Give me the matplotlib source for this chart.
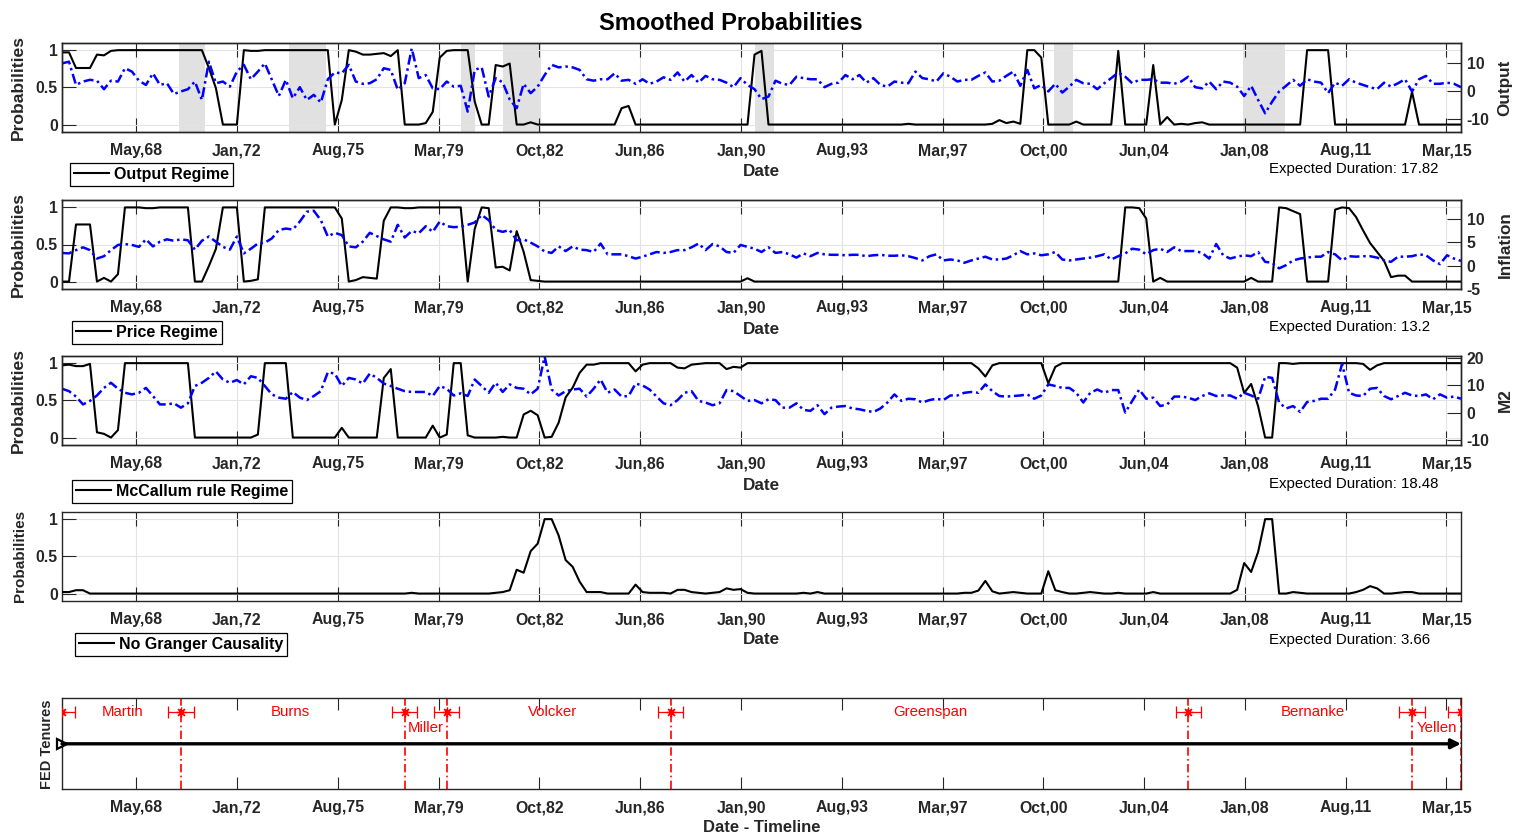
import numpy as np
import matplotlib
matplotlib.use("Agg")
import matplotlib.pyplot as plt

plt.rcParams['font.family'] = ['Liberation Sans', 'DejaVu Sans']

# ---------------- data ----------------
first_quarter = 1965.75
n_quarters = 201
dates = first_quarter + 0.25 * np.arange(n_quarters)

tick_pos = [1968.40, 1972.00, 1975.61, 1979.21, 1982.81, 1986.41, 1990.02,
            1993.62, 1997.22, 2000.82, 2004.43, 2008.03, 2011.63, 2015.23]
tick_labels = ['May,68', 'Jan,72', 'Aug,75', 'Mar,79', 'Oct,82', 'Jun,86', 'Jan,90',
               'Aug,93', 'Mar,97', 'Oct,00', 'Jun,04', 'Jan,08', 'Aug,11', 'Mar,15']

rec_start = [1969.92, 1973.87, 1980.00, 1981.50, 1990.50, 2001.20, 2007.95]
rec_end = [1970.87, 1975.20, 1980.50, 1982.87, 1991.20, 2001.87, 2009.45]

output_regime = [
    0.97, 0.97, 0.76, 0.76, 0.76, 0.94, 0.93, 0.99, 1.0, 1.0,
    1.0, 1.0, 1.0, 1.0, 1.0, 1.0, 1.0, 1.0, 1.0, 1.0,
    1.0, 0.76, 0.49, 0.0, 0.0, 0.0, 1.0, 0.99, 0.99, 1.0,
    1.0, 1.0, 1.0, 1.0, 1.0, 1.0, 1.0, 1.0, 1.0, 0.0,
    0.33, 1.0, 0.98, 0.94, 0.94, 0.95, 0.96, 0.92, 1.0, 0.0,
    0.0, 0.0, 0.02, 0.17, 0.90, 0.99, 1.0, 1.0, 1.0, 0.31,
    0.0, 0.0, 0.80, 0.78, 0.82, 0.0, 0.0, 0.03, 0.0, 0.0,
    0.0, 0.0, 0.0, 0.0, 0.0, 0.0, 0.0, 0.0, 0.0, 0.0,
    0.22, 0.25, 0.0, 0.0, 0.0, 0.0, 0.0, 0.0, 0.0, 0.0,
    0.0, 0.0, 0.0, 0.0, 0.0, 0.0, 0.0, 0.0, 0.0, 0.94,
    0.99, 0.0, 0.0, 0.0, 0.0, 0.0, 0.0, 0.0, 0.0, 0.0,
    0.0, 0.0, 0.0, 0.0, 0.0, 0.0, 0.0, 0.0, 0.0, 0.0,
    0.0, 0.01, 0.0, 0.0, 0.0, 0.0, 0.0, 0.0, 0.0, 0.0,
    0.0, 0.0, 0.0, 0.01, 0.06, 0.02, 0.04, 0.01, 1.0, 1.0,
    0.90, 0.0, 0.0, 0.0, 0.0, 0.04, 0.0, 0.0, 0.0, 0.0,
    0.0, 0.99, 0.0, 0.0, 0.0, 0.0, 0.80, 0.0, 0.10, 0.0,
    0.01, 0.0, 0.02, 0.03, 0.0, 0.0, 0.0, 0.0, 0.0, 0.0,
    0.0, 0.0, 0.0, 0.0, 0.0, 0.0, 0.0, 0.0, 1.0, 1.0,
    1.0, 1.0, 0.0, 0.0, 0.0, 0.0, 0.0, 0.0, 0.0, 0.0,
    0.0, 0.0, 0.0, 0.44, 0.0, 0.0, 0.0, 0.0, 0.0, 0.0,
    0.0]

output_growth = [
    9.7, 10.3, 2.1, 3.3, 3.9, 3.6, 0.6, 3.6, 3.3, 8.0,
    6.8, 3.6, 2.1, 6.2, 2.1, 2.7, -1.1, -0.2, 0.6, 3.3,
    -3.2, 10.3, 2.7, 3.3, 1.5, 6.8, 9.2, 4.1, 6.8, 9.7,
    3.9, -1.8, 3.9, -2.6, 1.3, -3.2, -1.4, -4.1, 4.1, 6.5,
    6.2, 9.2, 3.3, 2.5, 2.7, 4.1, 8.0, 7.4, 0.4, 2.7,
    15.0, 4.5, 5.6, 0.9, 0.6, 3.3, 1.5, 1.8, -7.3, 7.4,
    8.3, -2.0, 4.5, 3.0, -3.0, -6.1, 2.5, -0.8, 1.5, 5.6,
    9.2, 8.3, 8.6, 8.3, 7.4, 4.1, 3.6, 4.1, 4.1, 6.2,
    3.6, 3.9, 2.5, 4.1, 2.5, 3.3, 4.8, 3.9, 6.5, 3.3,
    5.6, 2.9, 5.3, 4.1, 3.9, 2.9, 1.3, 4.5, 2.1, 0.6,
    -2.9, -2.0, 3.6, 2.5, 2.1, 5.0, 4.5, 4.1, 4.1, 1.3,
    2.5, 2.9, 5.6, 4.1, 5.6, 2.9, 4.5, 2.1, 1.5, 3.3,
    2.9, 2.7, 6.8, 4.5, 4.1, 3.3, 6.2, 5.0, 3.3, 3.9,
    3.9, 5.3, 6.5, 3.3, 3.6, 5.3, 6.8, 1.8, 7.4, 0.9,
    2.1, -0.2, 2.5, -0.6, 1.5, 3.9, 2.7, 2.5, 0.6, 2.7,
    4.5, 6.5, 5.0, 2.7, 3.9, 3.9, 4.1, 2.9, 2.9, 2.5,
    3.3, 5.0, 1.3, 0.9, 3.3, 0.6, 3.3, 2.9, 1.5, -1.8,
    1.8, -3.2, -7.9, -3.8, -0.2, 1.8, 3.9, 1.8, 4.1, 3.3,
    2.9, -0.8, 2.9, 1.8, 4.1, 2.9, 2.1, 1.3, 0.6, 2.9,
    1.5, 2.7, 4.1, -0.2, 4.1, 5.3, 2.5, 2.5, 2.9, 2.5,
    1.3]

price_regime = [
    0.0, 0.0, 0.77, 0.77, 0.77, 0.0, 0.05, 0.0, 0.1, 1.0,
    1.0, 1.0, 0.99, 0.99, 1.0, 1.0, 1.0, 1.0, 1.0, 0.0,
    0.0, 0.21, 0.44, 1.0, 1.0, 1.0, 0.0, 0.01, 0.03, 1.0,
    1.0, 1.0, 1.0, 1.0, 1.0, 1.0, 1.0, 1.0, 1.0, 1.0,
    0.85, 0.0, 0.02, 0.06, 0.05, 0.04, 0.82, 1.0, 1.0, 0.99,
    0.99, 1.0, 1.0, 1.0, 1.0, 1.0, 1.0, 1.0, 0.0, 0.71,
    1.0, 0.99, 0.19, 0.20, 0.15, 0.68, 0.40, 0.02, 0.01, 0.0,
    0.0, 0.0, 0.0, 0.0, 0.0, 0.0, 0.0, 0.0, 0.0, 0.0,
    0.0, 0.0, 0.0, 0.0, 0.0, 0.0, 0.0, 0.0, 0.0, 0.0,
    0.0, 0.0, 0.0, 0.0, 0.0, 0.0, 0.0, 0.0, 0.045, 0.0,
    0.0, 0.0, 0.0, 0.0, 0.0, 0.0, 0.0, 0.0, 0.0, 0.0,
    0.0, 0.0, 0.0, 0.0, 0.0, 0.0, 0.0, 0.0, 0.0, 0.0,
    0.0, 0.0, 0.0, 0.0, 0.0, 0.0, 0.0, 0.0, 0.0, 0.0,
    0.0, 0.0, 0.0, 0.0, 0.0, 0.0, 0.0, 0.0, 0.0, 0.0,
    0.0, 0.0, 0.0, 0.0, 0.0, 0.0, 0.0, 0.0, 0.0, 0.0,
    0.0, 0.0, 1.0, 1.0, 0.99, 0.85, 0.0, 0.05, 0.0, 0.0,
    0.0, 0.0, 0.0, 0.0, 0.0, 0.0, 0.0, 0.0, 0.0, 0.0,
    0.05, 0.0, 0.0, 0.0, 1.0, 0.99, 0.95, 0.91, 0.0, 0.0,
    0.0, 0.0, 0.97, 1.0, 0.99, 0.87, 0.69, 0.52, 0.40, 0.28,
    0.06, 0.08, 0.08, 0.0, 0.0, 0.0, 0.0, 0.0, 0.0, 0.0,
    0.0]

inflation = [
    2.7, 2.6, 3.3, 3.9, 3.3, 1.5, 2.0, 3.3, 4.4, 4.6,
    4.4, 4.0, 5.6, 4.1, 5.1, 5.6, 5.3, 5.6, 5.4, 3.4,
    5.3, 6.2, 5.1, 4.0, 3.4, 6.2, 2.6, 3.6, 4.7, 4.9,
    5.8, 7.6, 7.9, 7.7, 9.4, 11.5, 11.7, 9.7, 6.2, 7.0,
    6.5, 4.1, 3.9, 5.1, 7.0, 6.3, 5.6, 5.1, 8.7, 6.0,
    7.4, 6.9, 8.4, 7.2, 9.4, 8.4, 8.2, 8.3, 8.7, 9.2,
    10.8, 9.7, 7.6, 7.2, 7.6, 5.4, 5.6, 4.9, 4.1, 3.0,
    2.7, 4.1, 3.1, 4.1, 3.4, 3.3, 2.9, 4.7, 2.4, 2.4,
    2.4, 2.0, 1.5, 1.9, 2.4, 2.9, 2.7, 2.9, 3.3, 3.3,
    3.9, 4.7, 3.3, 4.6, 4.1, 2.9, 2.7, 4.4, 4.0, 3.6,
    2.9, 3.9, 2.7, 2.9, 2.4, 1.7, 2.6, 2.0, 2.7, 2.4,
    2.3, 2.3, 2.2, 2.3, 2.3, 2.0, 2.2, 2.3, 2.1, 2.1,
    2.2, 2.0, 1.6, 1.1, 2.0, 2.4, 1.1, 1.3, 1.1, 0.6,
    1.1, 1.5, 1.9, 1.3, 1.3, 1.5, 2.2, 3.1, 2.4, 2.6,
    2.2, 2.4, 2.9, 1.3, 1.1, 1.3, 1.5, 1.7, 2.0, 2.4,
    1.3, 2.0, 2.6, 3.6, 3.4, 2.4, 3.3, 3.6, 2.9, 3.9,
    3.1, 3.1, 3.1, 2.7, 1.5, 4.6, 2.2, 1.5, 1.9, 2.2,
    2.0, 2.9, 0.8, 0.6, -0.6, 0.1, 1.1, 1.5, 1.7, 1.9,
    1.9, 2.9, 2.4, 1.1, 2.0, 1.9, 2.0, 2.0, 1.7, 1.1,
    0.8, 1.9, 1.9, 2.0, 2.4, 2.2, 1.1, 0.3, 2.2, 1.5,
    1.0]

mccallum_regime = [
    0.97, 0.98, 0.96, 0.96, 0.99, 0.07, 0.05, 0.0, 0.1, 1.0,
    1.0, 1.0, 1.0, 1.0, 1.0, 1.0, 1.0, 1.0, 1.0, 0.0,
    0.0, 0.0, 0.0, 0.0, 0.0, 0.0, 0.0, 0.0, 0.04, 1.0,
    1.0, 1.0, 1.0, 0.0, 0.0, 0.0, 0.0, 0.0, 0.0, 0.0,
    0.13, 0.0, 0.0, 0.0, 0.0, 0.0, 0.80, 0.92, 0.0, 0.0,
    0.0, 0.0, 0.0, 0.16, 0.0, 0.04, 1.0, 1.0, 0.03, 0.0,
    0.0, 0.0, 0.0, 0.01, 0.0, 0.0, 0.31, 0.36, 0.30, 0.0,
    0.01, 0.20, 0.54, 0.67, 0.87, 0.98, 0.98, 1.0, 1.0, 1.0,
    1.0, 1.0, 0.89, 0.98, 1.0, 1.0, 1.0, 1.0, 0.94, 0.93,
    0.98, 0.99, 1.0, 1.0, 1.0, 0.92, 0.95, 0.94, 1.0, 1.0,
    1.0, 1.0, 1.0, 1.0, 1.0, 1.0, 1.0, 1.0, 1.0, 1.0,
    1.0, 1.0, 1.0, 1.0, 1.0, 1.0, 1.0, 1.0, 1.0, 1.0,
    1.0, 1.0, 1.0, 1.0, 1.0, 1.0, 1.0, 1.0, 1.0, 1.0,
    1.0, 0.93, 0.82, 0.97, 1.0, 1.0, 1.0, 1.0, 1.0, 1.0,
    1.0, 0.73, 0.95, 1.0, 1.0, 1.0, 1.0, 1.0, 1.0, 1.0,
    1.0, 1.0, 1.0, 1.0, 1.0, 1.0, 1.0, 1.0, 1.0, 1.0,
    1.0, 1.0, 1.0, 1.0, 1.0, 1.0, 1.0, 1.0, 0.94, 0.60,
    0.72, 0.42, 0.0, 0.0, 1.0, 1.0, 0.99, 1.0, 1.0, 1.0,
    1.0, 1.0, 1.0, 1.0, 1.0, 1.0, 0.99, 0.91, 0.97, 1.0,
    1.0, 1.0, 1.0, 1.0, 1.0, 1.0, 1.0, 1.0, 1.0, 1.0,
    1.0]

m2_growth = [
    8.8, 7.9, 5.9, 3.0, 4.3, 6.3, 9.1, 11.0, 8.8, 7.3,
    6.7, 7.3, 9.1, 6.1, 3.0, 3.0, 3.4, 1.8, 3.4, 9.8,
    11.0, 12.8, 15.2, 12.2, 11.0, 12.0, 10.4, 13.4, 12.8, 9.8,
    6.7, 5.5, 5.1, 7.6, 5.5, 4.6, 6.1, 7.9, 14.9, 14.4,
    9.8, 12.8, 12.2, 10.7, 14.4, 12.8, 10.7, 9.8, 8.8, 7.9,
    7.6, 7.6, 7.6, 6.1, 9.8, 8.8, 6.3, 7.1, 6.1, 12.2,
    9.8, 7.3, 11.0, 7.6, 10.4, 9.1, 8.8, 6.7, 8.8, 20.7,
    8.5, 6.3, 7.9, 8.5, 8.8, 5.9, 8.8, 12.2, 7.3, 8.5,
    5.9, 6.1, 10.7, 10.0, 8.5, 5.9, 3.4, 2.7, 4.6, 7.3,
    7.9, 4.3, 3.7, 2.7, 3.4, 8.3, 7.9, 6.1, 4.3, 4.6,
    3.4, 4.9, 4.6, 1.8, 1.8, 3.4, 1.0, 0.6, 2.7, -0.6,
    1.8, 2.2, 2.4, 1.5, 1.2, 0.6, 0.2, 1.5, 3.7, 6.7,
    4.3, 5.1, 4.9, 3.7, 4.6, 5.1, 4.6, 6.3, 6.3, 7.3,
    7.6, 7.3, 10.4, 7.9, 6.1, 5.9, 6.1, 6.3, 6.7, 5.1,
    6.3, 10.4, 9.8, 9.1, 9.1, 7.3, 3.7, 7.3, 8.5, 7.3,
    8.3, 8.3, 0.0, 4.3, 8.5, 5.1, 5.5, 2.4, 3.0, 5.9,
    5.9, 5.5, 4.6, 6.1, 7.1, 6.1, 6.3, 6.3, 5.1, 7.3,
    6.3, 5.1, 13.2, 12.8, 3.7, 1.5, 2.4, 0.2, 3.9, 4.3,
    5.1, 5.1, 8.5, 18.0, 7.3, 6.3, 6.1, 8.8, 9.1, 6.1,
    4.9, 6.1, 7.3, 6.3, 6.1, 6.7, 4.9, 6.7, 5.5, 5.9,
    5.1]

no_granger = [
    0.02, 0.02, 0.045, 0.045, 0.0, 0.0, 0.0, 0.0, 0.0, 0.0,
    0.0, 0.0, 0.0, 0.0, 0.0, 0.0, 0.0, 0.0, 0.0, 0.0,
    0.0, 0.0, 0.0, 0.0, 0.0, 0.0, 0.0, 0.0, 0.0, 0.0,
    0.0, 0.0, 0.0, 0.0, 0.0, 0.0, 0.0, 0.0, 0.0, 0.0,
    0.0, 0.0, 0.0, 0.0, 0.0, 0.0, 0.0, 0.0, 0.0, 0.0,
    0.01, 0.0, 0.0, 0.0, 0.0, 0.0, 0.0, 0.0, 0.0, 0.0,
    0.0, 0.0, 0.01, 0.02, 0.045, 0.32, 0.28, 0.57, 0.67, 1.0,
    1.0, 0.78, 0.45, 0.36, 0.16, 0.02, 0.02, 0.02, 0.0, 0.0,
    0.0, 0.0, 0.12, 0.02, 0.01, 0.01, 0.01, 0.0, 0.05, 0.05,
    0.02, 0.01, 0.0, 0.01, 0.02, 0.07, 0.05, 0.06, 0.01, 0.0,
    0.0, 0.0, 0.0, 0.0, 0.0, 0.0, 0.01, 0.0, 0.02, 0.0,
    0.0, 0.0, 0.0, 0.0, 0.0, 0.0, 0.0, 0.0, 0.0, 0.0,
    0.0, 0.0, 0.0, 0.0, 0.0, 0.0, 0.0, 0.0, 0.0, 0.01,
    0.01, 0.04, 0.17, 0.03, 0.0, 0.01, 0.02, 0.01, 0.0, 0.0,
    0.0, 0.30, 0.045, 0.02, 0.0, 0.0, 0.01, 0.02, 0.01, 0.0,
    0.0, 0.01, 0.0, 0.0, 0.0, 0.0, 0.02, 0.0, 0.0, 0.0,
    0.0, 0.0, 0.0, 0.0, 0.0, 0.0, 0.0, 0.0, 0.05, 0.41,
    0.29, 0.56, 1.0, 1.0, 0.0, 0.0, 0.02, 0.01, 0.0, 0.0,
    0.0, 0.0, 0.0, 0.0, 0.0, 0.02, 0.05, 0.10, 0.07, 0.0,
    0.0, 0.01, 0.02, 0.02, 0.0, 0.0, 0.0, 0.0, 0.0, 0.0,
    0.0]

durations = ['17.82', '13.2', '18.48', '3.66']
regime_names = ['Output Regime', 'Price Regime', 'McCallum rule Regime', 'No Granger Causality']
right_names = ['Output', 'Inflation', 'M2']

chairs = ['Martin', 'Burns', 'Miller', 'Volcker', 'Greenspan', 'Bernanke', 'Yellen']
chair_start = [1965.75, 1970.0, 1978.0, 1979.5, 1987.5, 2006.0, 2014.0]
timeline_end = 2015.75
chair_label_x = [1967.9, 1973.9, 1978.75, 1983.3, 1996.8, 2010.45, 2014.9]
chair_label_y = [0.70, 0.70, 0.35, 0.70, 0.70, 0.70, 0.35]

# ---------------- figure ----------------
W, H = 1519, 840
fig = plt.figure(figsize=(W / 100, H / 100), dpi=100)
AXC = '#262626'


def fax(top_px, bot_px):
    return [62 / W, 1 - bot_px / H, 1399 / W, (bot_px - top_px) / H]


def style_x(ax, length=10):
    ax.set_xlim(dates[0], dates[-1])
    ax.set_xticks(tick_pos)
    ax.set_xticklabels(tick_labels, fontweight='bold', fontsize=11.4, color=AXC)
    ax.tick_params(axis='x', direction='in', length=length, width=0.8,
                   top=True, bottom=True, pad=8, color=AXC)
    for sp in ax.spines.values():
        sp.set_color(AXC)
        sp.set_linewidth(1.0)


def style_left(ax, size=12.6, lab_x=18.5):
    ax.set_ylim(-0.1, 1.1)
    ax.set_yticks([0, 0.5, 1])
    ax.set_yticklabels(['0', '0.5', '1'], fontweight='bold', fontsize=11.4, color=AXC)
    ax.tick_params(axis='y', direction='in', length=10, width=0.8,
                   left=True, right=False, pad=3, color=AXC)
    ax.grid(True, color='#e3e3e3', linewidth=0.8)
    ax.set_axisbelow(True)
    ax.set_ylabel('Probabilities', fontweight='bold', fontsize=size, color=AXC)
    ax.yaxis.set_label_coords((lab_x - 62) / 1399, 0.5)
    ax.yaxis.label.set_va('center')


def add_bottom(ax, k, date_y, leg_xy, dur_y, bot_px, h_px):
    ax.set_xlabel('Date', fontweight='bold', fontsize=12.3, color=AXC)
    ax.xaxis.set_label_coords(0.5, -(date_y - bot_px) / h_px)
    ax.xaxis.label.set_va('center')
    leg = ax.legend(handles=[ax.lines[0]], labels=[regime_names[k]], loc='upper left',
                    bbox_to_anchor=(leg_xy[0] / W, 1 - leg_xy[1] / H),
                    bbox_transform=fig.transFigure,
                    prop={'weight': 'bold', 'size': 11.5}, frameon=True, fancybox=False,
                    edgecolor='black', framealpha=1, borderpad=0.25, handlelength=2.2,
                    handletextpad=0.3, borderaxespad=0)
    leg.get_frame().set_linewidth(0.9)
    fig.text(1269 / W, 1 - dur_y / H, 'Expected Duration: ' + durations[k],
             fontsize=10.8, va='center', ha='left', color='black')


blue_style = dict(color='blue', linewidth=1.8, linestyle=(0, (4, 1.5, 1, 1.5)))

panels = [
    (42.7, 132.0, output_regime, output_growth, (-14.5, 17), [-10, 0, 10], 172, (70, 163), 169),
    (200.0, 289.0, price_regime, inflation, (-5, 14), [-5, 0, 5, 10], 329, (72, 321), 327),
    (355.7, 445.0, mccallum_regime, m2_growth, (-12, 21), [-10, 0, 10, 20], 485, (72, 480), 484),
]

for k, (top, bot, prob, series, rlim, rticks, date_y, leg_xy, dur_y) in enumerate(panels):
    ax = fig.add_axes(fax(top, bot))
    if k == 0:
        for s, e in zip(rec_start, rec_end):
            ax.axvspan(s, e, facecolor='#e1e1e1', edgecolor='none', zorder=0)
    ax.plot(dates, prob, color='black', linewidth=1.5, zorder=3)
    style_x(ax)
    style_left(ax)
    axr = ax.twinx()
    axr.plot(dates, series, **blue_style)
    axr.set_ylim(*rlim)
    axr.set_yticks(rticks)
    axr.set_yticklabels([str(t) for t in rticks], fontweight='bold', fontsize=11.4, color=AXC)
    axr.tick_params(axis='y', direction='in', length=10, width=0.8,
                    right=True, left=False, pad=4, color=AXC)
    for sp in axr.spines.values():
        sp.set_color(AXC)
        sp.set_linewidth(1.0)
    axr.set_ylabel(right_names[k], fontweight='bold', fontsize=12.3, color=AXC)
    axr.yaxis.set_label_coords((1505 - 62) / 1399, 0.5)
    axr.yaxis.label.set_va('center')
    add_bottom(ax, k, date_y, leg_xy, dur_y, bot, bot - top)

# panel 4: no Granger causality
ax4 = fig.add_axes(fax(511.7, 601.0))
ax4.plot(dates, no_granger, color='black', linewidth=1.5, zorder=3)
style_x(ax4)
style_left(ax4, size=11.0, lab_x=20)
add_bottom(ax4, 3, 640, (75, 633), 640, 601.0, 89.3)

# timeline of FED chairs
ax5 = fig.add_axes(fax(698.3, 789.3))
style_x(ax5, length=8.6)
ax5.set_ylim(-1, 1)
ax5.set_yticks([])
for s in chair_start + [timeline_end]:
    ax5.axvline(s, color='red', linestyle=(0, (5, 2, 1, 2)), linewidth=1.2, zorder=2)
ax5.annotate('', xy=(dates[-1], 0), xytext=(dates[0], 0),
             arrowprops=dict(arrowstyle='-|>', color='black', lw=2.4,
                             mutation_scale=14, shrinkA=0, shrinkB=0), zorder=4)
ax5.plot([dates[0]], [0], marker='>', color='black', markersize=7, zorder=5,
         markerfacecolor='none', markeredgewidth=1.6, clip_on=False)
ax5.errorbar(chair_start + [timeline_end], [0.7] * (len(chair_start) + 1), xerr=0.45,
             fmt='none', ecolor='red', elinewidth=0.9, capsize=4, capthick=0.9, zorder=5)
ax5.plot(chair_start + [timeline_end], [0.7] * (len(chair_start) + 1), linestyle='none',
         marker=(8, 2, 0), color='red', markersize=7, markeredgewidth=0.9, zorder=5)
for name, lx, ly in zip(chairs, chair_label_x, chair_label_y):
    ax5.text(lx, ly, name, color='red', fontsize=10.8, ha='center', va='center', zorder=6)
ax5.set_ylabel('FED Tenures', fontweight='bold', fontsize=10.5, color=AXC)
ax5.yaxis.set_label_coords((47.5 - 62) / 1399, 0.5)
ax5.yaxis.label.set_va('center')
ax5.set_xlabel('Date - Timeline', fontweight='bold', fontsize=12, color=AXC)
ax5.xaxis.set_label_coords(0.5, -(828 - 789.3) / 91.0)
ax5.xaxis.label.set_va('center')

fig.text(731 / W, 1 - 23 / H, 'Smoothed Probabilities', ha='center', va='center',
         fontsize=17, fontweight='bold', color='black')

fig.savefig('out.png', dpi=100)
